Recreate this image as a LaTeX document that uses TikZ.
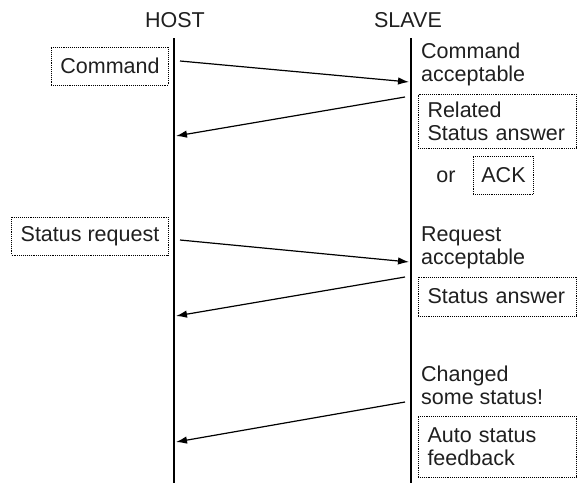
\documentclass[tikz,border=0pt]{standalone}
\usepackage{fontspec}
\setmainfont{Liberation Sans}
\usetikzlibrary{arrows.meta}
\begin{document}
\begin{tikzpicture}[x=1pt,y=-1pt,
  every node/.style={font=\fontsize{21.5}{23}\selectfont,text=black!88,inner sep=0pt},
  msg/.style={line width=1.2pt,-{Latex[length=11pt,width=7.5pt]}},
  life/.style={line width=1.4pt},
  note/.style={draw,densely dotted,line width=0.9pt,inner xsep=9pt,minimum height=38pt},
  wnote/.style={note,align=left,text width=139pt,inner xsep=9.5pt}]
  \useasboundingbox (0,0) rectangle (585,485);

  % Lebenslinien
  \node (host) at (175,20) {HOST};
  \node (slave) at (408,20) {SLAVE};
  \coordinate (hTop) at (174,38);
  \coordinate (hBot) at (174,483);
  \coordinate (sTop) at (411,38);
  \coordinate (sBot) at (411,483);
  \draw[life] (hTop) -- (hBot);
  \draw[life] (sTop) -- (sBot);

  % Texte HOST
  \node[note] (cmd) at (110,66) {Command};
  \node[note] (req) at (90,236) {Status request};

  % Texte SLAVE
  \node[anchor=west,align=left] (cmdok) at (421,64) {Command\\acceptable};
  \node[wnote,minimum height=54pt] (rel) at (497,121) {Related\\Status answer};
  \node (or) at (446,177) {or};
  \node[note,inner xsep=8pt] (ack) at (503.5,175) {ACK};
  \node[anchor=west,align=left] (reqok) at (421,247.5) {Request\\acceptable};
  \node[wnote,minimum height=39pt] (ans) at (497,296.5) {Status answer};
  \node[anchor=west,align=left] (chg) at (421,385) {Changed\\some status!};
  \node[wnote,minimum height=61pt] (auto) at (497,446.5) {Auto status\\feedback};

  % Nachrichten
  \coordinate (m1a) at (180,61);  \coordinate (m1b) at (409,82);
  \coordinate (m2a) at (405,97);  \coordinate (m2b) at (176,136);
  \coordinate (m3a) at (180,240); \coordinate (m3b) at (409,262);
  \coordinate (m4a) at (405,277); \coordinate (m4b) at (176,316);
  \coordinate (m5a) at (405,402); \coordinate (m5b) at (176,442);
  \foreach \from/\to in {m1a/m1b, m2a/m2b, m3a/m3b, m4a/m4b, m5a/m5b}
    \draw[msg] (\from) -- (\to);
\end{tikzpicture}
\end{document}
